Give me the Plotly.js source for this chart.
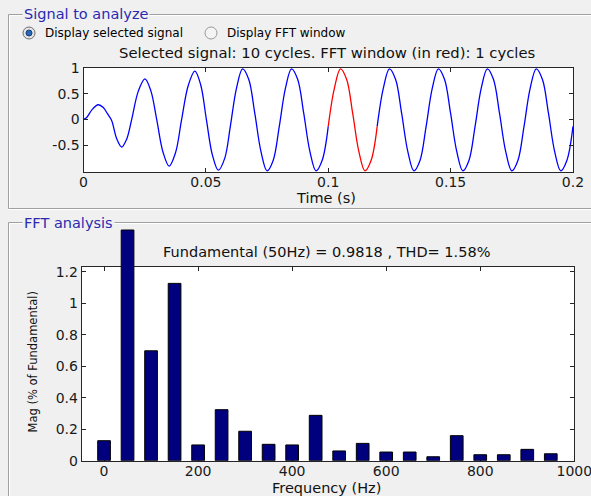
<!DOCTYPE html>
<html>
<head>
<meta charset="utf-8">
<script src="https://cdn.plot.ly/plotly-3.0.1.min.js"></script>
<style>
html,body{margin:0;padding:0;background:#F0F0F0;}
#chart{width:591px;height:496px;}
</style>
</head>
<body>
<div id="chart"></div>
<script>
// ---- Data ----
const sigTime = [
  0, 0.0012, 0.0035, 0.0060, 0.0081, 0.0098, 0.0115, 0.0135, 0.0156, 0.0176,
  0.0197, 0.0224, 0.0251, 0.0275, 0.0299, 0.0325, 0.0350, 0.0376, 0.0401, 0.0428,
  0.0455, 0.0479, 0.0502, 0.0527, 0.0551, 0.0577,
  0.06, 0.0625, 0.065, 0.0675, 0.07, 0.0725, 0.075, 0.0775,
  0.08, 0.0825, 0.085, 0.0875, 0.09, 0.0925, 0.095, 0.0975,
  0.10, 0.1025, 0.105, 0.1075, 0.11, 0.1125, 0.115, 0.1175,
  0.12, 0.1225, 0.125, 0.1275, 0.13, 0.1325, 0.135, 0.1375,
  0.14, 0.1425, 0.145, 0.1475, 0.15, 0.1525, 0.155, 0.1575,
  0.16, 0.1625, 0.165, 0.1675, 0.17, 0.1725, 0.175, 0.1775,
  0.18, 0.1825, 0.185, 0.1875, 0.19, 0.1925, 0.195, 0.1975,
  0.20
];
const sigValue = [
  0, 0.03, 0.19, 0.285, 0.23, 0.11, -0.02, -0.37, -0.54, -0.39,
  0.0, 0.55, 0.79, 0.56, 0.0, -0.64, -0.91, -0.65, 0.0, 0.66,
  0.94, 0.67, 0.0, -0.70, -0.99, -0.76,
  -0.135, 0.603, 0.982, 0.780, 0.115, -0.623, -1.002, -0.800,
  -0.135, 0.603, 0.982, 0.780, 0.115, -0.623, -1.002, -0.800,
  -0.135, 0.603, 0.982, 0.780, 0.115, -0.623, -1.002, -0.800,
  -0.135, 0.603, 0.982, 0.780, 0.115, -0.623, -1.002, -0.800,
  -0.135, 0.603, 0.982, 0.780, 0.115, -0.623, -1.002, -0.800,
  -0.135, 0.603, 0.982, 0.780, 0.115, -0.623, -1.002, -0.800,
  -0.135, 0.603, 0.982, 0.780, 0.115, -0.623, -1.002, -0.800,
  -0.135
];
const fftWindowStart = 0.10;
const fftWindowEnd = 0.12;

const harmFreq = [0, 50, 100, 150, 200, 250, 300, 350, 400, 450,
                  500, 550, 600, 650, 700, 750, 800, 850, 900, 950];
const harmMag  = [0.127, 1.465, 0.698, 1.126, 0.100, 0.324, 0.187, 0.104, 0.100, 0.288,
                  0.062, 0.110, 0.055, 0.055, 0.025, 0.159, 0.038, 0.038, 0.072, 0.044];

const timeTicks = [0, 0.05, 0.1, 0.15, 0.2];
const timeTickText = ['0', '0.05', '0.1', '0.15', '0.2'];
const sigTicks = [-0.5, 0, 0.5, 1];
const sigTickText = ['-0.5', '0', '0.5', '1'];
const freqTicks = [0, 200, 400, 600, 800, 1000];
const freqTickText = ['0', '200', '400', '600', '800', '1000'];
const magTicks = [0, 0.2, 0.4, 0.6, 0.8, 1, 1.2];
const magTickText = ['0', '0.2', '0.4', '0.6', '0.8', '1', '1.2'];

const titleTop = 'Selected signal: 10 cycles. FFT window (in red): 1 cycles';
const titleBottom = 'Fundamental (50Hz) = 0.9818 , THD= 1.58%';

// ---- Layout helpers (pixel -> paper) ----
const W = 591, H = 496;
const px = x => x / W;
const py = y => 1 - y / H;

const eps = 1e-9;
const pick = cond => {
  const tt = [], vv = [];
  sigTime.forEach((t, i) => { if (cond(t)) { tt.push(t); vv.push(sigValue[i]); } });
  return [tt, vv];
};
const [preT, preV] = pick(t => t <= fftWindowStart + eps);
const [winT, winV] = pick(t => t >= fftWindowStart - eps && t <= fftWindowEnd + eps);
const [postT, postV] = pick(t => t >= fftWindowEnd - eps);

// FFT axes geometry (pixels)
const fftLeft = 81.7, fftRight = 574.3, fftTop = 266.7, fftBottom = 460.7;
const fftYMax = 1.232, fftXRange = [-47.5, 1000.01];
const barAreaTop = 226; // bars may rise above the axes (unclipped), up to the panel
const barYMax = fftYMax * (fftBottom - barAreaTop) / (fftBottom - fftTop);

const FONT = 'DejaVu Sans, Verdana, sans-serif';
const axisBase = {
  showline: true, linecolor: '#262626', linewidth: 1, mirror: 'ticks',
  ticks: 'inside', ticklen: 4, tickcolor: '#262626', tickwidth: 1,
  showgrid: false, zeroline: false, fixedrange: true, ticklabeloverflow: 'allow',
  tickfont: {family: FONT, size: 14, color: '#1a1a1a'}
};

const sigLine = c => ({color: c, width: 1.3, shape: 'spline'});
const traces = [
  {x: preT, y: preV, type: 'scatter', mode: 'lines', line: sigLine('#0000FF'), xaxis: 'x', yaxis: 'y', hoverinfo: 'skip'},
  {x: postT, y: postV, type: 'scatter', mode: 'lines', line: sigLine('#0000FF'), xaxis: 'x', yaxis: 'y', hoverinfo: 'skip'},
  {x: winT, y: winV, type: 'scatter', mode: 'lines', line: sigLine('#FF0000'), xaxis: 'x', yaxis: 'y', hoverinfo: 'skip'},
  {x: [0.1], y: [0], type: 'scatter', mode: 'markers', marker: {opacity: 0}, xaxis: 'x2', yaxis: 'y2', hoverinfo: 'skip'},
  {x: harmFreq, y: harmMag, type: 'bar', width: 27,
   marker: {color: '#00007F', line: {color: '#000000', width: 1}}, xaxis: 'x3', yaxis: 'y3', hoverinfo: 'skip'}
];

const lineShape = (x0, y0, x1, y1, color) => ({type: 'line', xref: 'paper', yref: 'paper',
  x0: px(x0), y0: py(y0), x1: px(x1), y1: py(y1), line: {color: color, width: 1}, layer: 'below'});
const rectShape = (x0, y0, x1, y1, fill) => ({type: 'rect', xref: 'paper', yref: 'paper',
  x0: px(x0), y0: py(y1), x1: px(x1), y1: py(y0), fillcolor: fill, line: {width: 0}, layer: 'below'});
const circle = (cx, cy, r, fill, stroke) => ({type: 'circle', xref: 'paper', yref: 'paper',
  x0: px(cx - r), x1: px(cx + r), y0: py(cy + r), y1: py(cy - r), fillcolor: fill, line: {color: stroke, width: 1}, layer: 'above'});

const shapes = [
  // plot backgrounds
  rectShape(83.5, 68, 573, 172, '#FFFFFF'),
  rectShape(fftLeft, fftTop, fftRight, fftBottom, '#FFFFFF'),
  // Signal panel (etched border)
  lineShape(8.5, 14.5, 591, 14.5, '#A0A0A0'),
  lineShape(8.5, 14.5, 8.5, 208.5, '#A0A0A0'),
  lineShape(8.5, 208.5, 591, 208.5, '#A0A0A0'),
  lineShape(9.5, 15.5, 591, 15.5, '#FFFFFF'),
  lineShape(9.5, 15.5, 9.5, 207.5, '#FFFFFF'),
  lineShape(8.5, 209.5, 591, 209.5, '#FFFFFF'),
  // FFT panel
  lineShape(8.5, 222.5, 591, 222.5, '#A0A0A0'),
  lineShape(8.5, 222.5, 8.5, 496, '#A0A0A0'),
  lineShape(9.5, 223.5, 591, 223.5, '#FFFFFF'),
  lineShape(9.5, 223.5, 9.5, 496, '#FFFFFF'),
  // radio buttons
  circle(29, 33, 6, '#E4E4E4', '#6E6E6E'),
  circle(29, 33, 3, '#2A66B8', '#16407A'),
  circle(211, 33, 6, '#F4F4F4', '#9A9A9A')
];

const ann = (text, x, y, opts) => Object.assign({text: text, x: px(x), y: py(y), xref: 'paper', yref: 'paper',
  showarrow: false, xanchor: 'center', yanchor: 'middle',
  font: {family: FONT, size: 14.5, color: '#111111'}}, opts || {});

const annotations = [
  ann('Signal to analyze', 22, 14.5, {xanchor: 'left', bgcolor: '#F0F0F0', borderpad: 1,
      font: {family: FONT, size: 14.5, color: '#2A2AB0'}}),
  ann('FFT analysis', 22, 222.5, {xanchor: 'left', bgcolor: '#F0F0F0', borderpad: 1,
      font: {family: FONT, size: 14.5, color: '#2A2AB0'}}),
  ann('Display selected signal', 43, 33, {xanchor: 'left', font: {family: FONT, size: 12, color: '#000000'}}),
  ann('Display FFT window', 225, 33, {xanchor: 'left', font: {family: FONT, size: 12, color: '#000000'}}),
  ann(titleTop, 327, 53, {font: {family: FONT, size: 14.8, color: '#111111'}}),
  ann('Time (s)', 326, 198.5),
  ann(titleBottom, 326, 252.5),
  ann('Frequency (Hz)', 326, 488),
  ann('Mag (% of Fundamental)', 32.5, 362, {textangle: -90, font: {family: FONT, size: 11.5, color: '#111111'}})
];

const layout = {
  width: W, height: H, margin: {l: 0, r: 0, t: 0, b: 0, pad: 0},
  paper_bgcolor: '#F0F0F0', plot_bgcolor: 'rgba(0,0,0,0)', showlegend: false,
  xaxis: Object.assign({}, axisBase, {domain: [px(83.5), px(573)], anchor: 'y', range: [0, 0.20001],
    tickmode: 'array', tickvals: timeTicks, ticktext: timeTickText, ticklabelstandoff: -3}),
  yaxis: Object.assign({}, axisBase, {domain: [py(172), py(68)], anchor: 'x', range: [-1.025, 1.0005],
    tickmode: 'array', tickvals: sigTicks, ticktext: sigTickText}),
  xaxis2: Object.assign({}, axisBase, {domain: [px(fftLeft), px(fftRight)], anchor: 'y2', range: fftXRange,
    tickmode: 'array', tickvals: freqTicks, ticktext: freqTickText, ticklabelstandoff: -3}),
  yaxis2: Object.assign({}, axisBase, {domain: [py(fftBottom), py(fftTop)], anchor: 'x2', range: [0, fftYMax],
    tickmode: 'array', tickvals: magTicks, ticktext: magTickText}),
  xaxis3: {domain: [px(fftLeft), px(fftRight)], anchor: 'y3', range: fftXRange, visible: false, fixedrange: true},
  yaxis3: {domain: [py(fftBottom), py(barAreaTop)], anchor: 'x3', range: [0, barYMax], visible: false, fixedrange: true},
  shapes: shapes,
  annotations: annotations,
  bargap: 0
};

Plotly.newPlot('chart', traces, layout, {displayModeBar: false, staticPlot: true});
</script>
</body>
</html>
